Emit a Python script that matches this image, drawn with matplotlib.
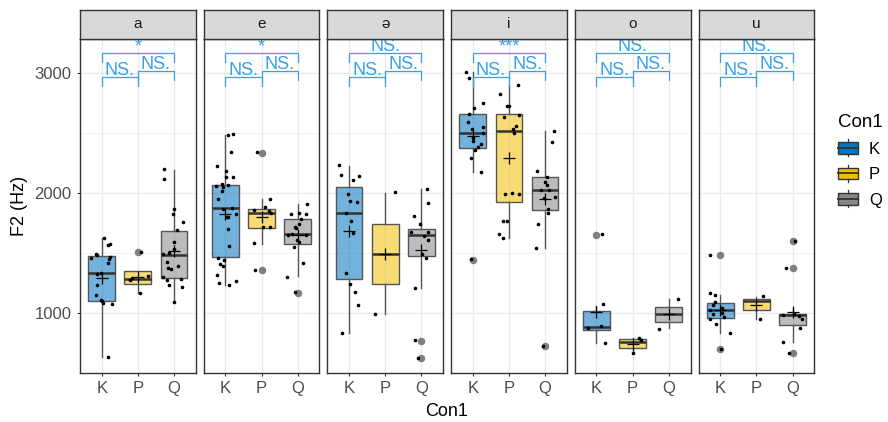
import matplotlib
matplotlib.use("Agg")
import matplotlib.pyplot as plt
from matplotlib.legend_handler import HandlerBase
from matplotlib.patches import Rectangle, Patch
from matplotlib.lines import Line2D
import numpy as np

plt.rcParams['font.family'] = ['Liberation Sans', 'DejaVu Sans']

# ---------------- data ----------------
vowels = ['a', 'e', 'ə', 'i', 'o', 'u']
groups = ['K', 'P', 'Q']
group_colors = ['#0073C2', '#EFC000', '#868686']

# box statistics, one row per vowel, columns K, P, Q
q1 = [[1102, 1247, 1292], [1472, 1711, 1578], [1283, 1244, 1480],
      [2380, 1928, 1858], [858, 713, 930], [961, 1028, 903]]
med = [[1336, 1286, 1486], [1875, 1833, 1658], [1833, 1494, 1655],
       [2500, 2522, 2028], [883, 763, 994], [1030, 1103, 986]]
q3 = [[1475, 1350, 1688], [2067, 1872, 1786], [2050, 1747, 1700],
      [2661, 2664, 2133], [1019, 783, 1055], [1083, 1119, 994]]
whislo = [[638, 1166, 1092], [1233, 1580, 1311], [833, 994, 1214],
          [2180, 1630, 1547], [750, 667, 875], [838, 956, 761]]
whishi = [[1630, 1350, 2194], [2486, 1950, 1908], [2230, 2005, 2036],
          [3013, 2903, 2517], [1064, 797, 1119], [1152, 1139, 1047]]
means = [[1292, 1305, 1519], [1830, 1805, 1653], [1686, 1494, 1527],
         [2478, 2294, 1950], [1013, 742, 994], [1028, 1067, 1013]]
outliers = [
    [[], [1511], []],
    [[], [2333, 1361], [1172]],
    [[], [], [772, 630]],
    [[1444], [], [725]],
    [[1652], [], []],
    [[1486, 700], [], [1605, 1377, 667]],
]

# individual observations (jittered points)
points_a = [
    [1630, 1580, 1572, 1497, 1486, 1472, 1461, 1452, 1419, 1336, 1328, 1233, 1155, 1111, 1103, 1088, 1078, 636],
    [1511, 1310, 1290, 1280, 1166],
    [2200, 2122, 1867, 1828, 1761, 1694, 1592, 1536, 1502, 1497, 1430, 1392, 1375, 1372, 1305, 1286, 1275, 1233, 1222, 1092],
]
points_e = [
    [2490, 2486, 2341, 2225, 2188, 2138, 2135, 2078, 2067, 2062, 2055, 2022, 1950, 1875, 1870, 1825, 1805, 1800,
     1705, 1563, 1458, 1442, 1411, 1392, 1319, 1269, 1250, 1233],
    [2341, 1950, 1883, 1861, 1850, 1833, 1719, 1715, 1583, 1364],
    [1913, 1836, 1830, 1825, 1786, 1744, 1722, 1711, 1660, 1655, 1650, 1611, 1590, 1555, 1422, 1305, 1175],
]
points_schwa = [
    [2236, 2150, 2140, 2111, 1994, 1938, 1930, 1833, 1769, 1667, 1333, 1242, 1180, 1069, 833],
    [2008, 994],
    [2036, 1922, 1808, 1742, 1680, 1676, 1647, 1611, 1492, 1458, 1208, 773, 630],
]
points_i = [
    [3013, 2963, 2755, 2711, 2661, 2597, 2555, 2536, 2500, 2458, 2436, 2411, 2389, 2358, 2292, 2180, 1450],
    [2903, 2830, 2728, 2725, 2653, 2633, 2558, 2536, 2500, 2002, 1997, 1992, 1772, 1770, 1658, 1630],
    [2519, 2430, 2186, 2136, 2092, 2067, 2030, 2028, 1966, 1960, 1869, 1836, 1741, 1544, 727],
]
points_o = [
    [1658, 1075, 897, 875, 750],
    [797, 781, 672],
    [1119, 872],
]
points_u = [
    [1486, 1167, 1152, 1094, 1069, 1042, 1028, 1005, 994, 972, 950, 908, 833, 700],
    [1144, 956],
    [1605, 1380, 993, 986, 975, 950, 875, 761, 667],
]
all_points = [points_a, points_e, points_schwa, points_i, points_o, points_u]

# significance brackets: (from group, to group), bracket height, labels per vowel
bracket_pairs = [(0, 1), (1, 2), (0, 2)]
bracket_y = [2967, 3017, 3167]
bracket_tip = 75
labels_KP = ['NS.', 'NS.', 'NS.', 'NS.', 'NS.', 'NS.']
labels_PQ = ['NS.', 'NS.', 'NS.', 'NS.', 'NS.', 'NS.']
labels_KQ = ['*', '*', 'NS.', '***', 'NS.', 'NS.']
bracket_labels = [labels_KP, labels_PQ, labels_KQ]

y_major = [1000, 2000, 3000]
y_minor = [1500, 2500]

# ---------------- layout ----------------
W, H = 888, 422
fig = plt.figure(figsize=(W / 100, H / 100), dpi=100)
fig.patch.set_facecolor('white')

def fx(px):
    return px / W

def fy(py):
    return 1 - py / H

panel_left0 = 80
panel_w = 115.7
gap = 8
top, bottom = 39, 373
strip_top = 10
sig_color = '#3AA0E4'
edge_col = '#333333'
box_edge = '#555555'
rng = np.random.default_rng(7)

for vi, vowel in enumerate(vowels):
    left = panel_left0 + vi * (panel_w + gap)
    ax = fig.add_axes([fx(left), fy(bottom), panel_w / W, (bottom - top) / H])
    ax.set_xlim(0.4, 3.6)
    ax.set_ylim(502, 3286)
    ax.set_facecolor('white')

    # grid
    for yv in y_major:
        ax.axhline(yv, color='#EBEBEB', lw=1.0, zorder=0)
    for yv in y_minor:
        ax.axhline(yv, color='#EBEBEB', lw=0.5, zorder=0)
    for xv in range(1, 4):
        ax.axvline(xv, color='#EBEBEB', lw=1.0, zorder=0)

    stats = []
    for gi in range(3):
        stats.append(dict(med=med[vi][gi], q1=q1[vi][gi], q3=q3[vi][gi],
                          whislo=whislo[vi][gi], whishi=whishi[vi][gi],
                          mean=means[vi][gi], fliers=outliers[vi][gi]))
    bp = ax.bxp(stats, positions=[1, 2, 3], widths=0.74, patch_artist=True,
                showmeans=True, showcaps=False, manage_ticks=False,
                boxprops=dict(edgecolor=box_edge, linewidth=1.0),
                medianprops=dict(color='#333333', linewidth=1.8),
                whiskerprops=dict(color=box_edge, linewidth=1.0),
                flierprops=dict(marker='o', markerfacecolor='#7F7F7F',
                                markeredgecolor='#7F7F7F', markersize=4.4),
                meanprops=dict(marker='+', markeredgecolor='black',
                               markersize=9, markeredgewidth=0.9))
    for gi, patch in enumerate(bp['boxes']):
        r, g, b = matplotlib.colors.to_rgb(group_colors[gi])
        patch.set_facecolor((r, g, b, 0.55))
        patch.set_zorder(2)
    for m in bp['means']:
        m.set_zorder(5)

    # jittered points
    for gi in range(3):
        yvals = np.array(all_points[vi][gi], dtype=float)
        xj = (gi + 1) + rng.uniform(-0.3, 0.3, size=len(yvals))
        ax.plot(xj, yvals, 'o', color='black', markersize=1.6, zorder=4)

    # significance brackets
    for bi, (g0, g1) in enumerate(bracket_pairs):
        yb = bracket_y[bi]
        x0, x1 = g0 + 1, g1 + 1
        ax.plot([x0, x0, x1, x1], [yb - bracket_tip, yb, yb, yb - bracket_tip],
                color=sig_color, lw=0.9, zorder=6, clip_on=False)
        ax.annotate(bracket_labels[bi][vi], xy=((x0 + x1) / 2, yb),
                    xytext=(0, 1.6), textcoords='offset points',
                    ha='center', va='baseline', fontsize=13, color=sig_color,
                    zorder=6, annotation_clip=False)

    # axes styling
    for sp in ax.spines.values():
        sp.set_color(edge_col)
        sp.set_linewidth(1.0)
        sp.set_zorder(7)
    ax.set_xticks([1, 2, 3])
    ax.set_xticklabels(groups)
    ax.tick_params(axis='x', length=2.5, width=0.8, color=edge_col,
                   labelsize=12, labelcolor='#4D4D4D', pad=3)
    if vi == 0:
        ax.set_yticks(y_major)
        ax.set_yticklabels([str(v) for v in y_major])
        ax.tick_params(axis='y', length=2.5, width=0.8, color=edge_col,
                       labelsize=12, labelcolor='#4D4D4D', pad=3.5)
    else:
        ax.set_yticks([])

    # strip
    sax = fig.add_axes([fx(left), fy(top), panel_w / W, (top - strip_top) / H])
    sax.set_facecolor('#D9D9D9')
    sax.set_xticks([])
    sax.set_yticks([])
    for sp in sax.spines.values():
        sp.set_color(edge_col)
        sp.set_linewidth(1.0)
    sax.text(0.5, 0.5, vowel, ha='center', va='center', fontsize=11,
             color='#1A1A1A', transform=sax.transAxes)

# axis titles
fig.text(fx(20), fy(206), 'F2 (Hz)', rotation=90, ha='center', va='center',
         fontsize=13, color='black')
fig.text(fx(447), fy(411), 'Con1', ha='center', va='center', fontsize=13,
         color='black')

# legend with boxplot keys
class BoxKey(HandlerBase):
    def create_artists(self, legend, orig_handle, xdescent, ydescent,
                       width, height, fontsize, trans):
        fc = orig_handle.get_facecolor()
        x0, y0 = -xdescent, -ydescent
        bh = height * 0.66
        by = y0 + (height - bh) / 2
        rect = Rectangle((x0, by), width, bh, facecolor=fc,
                         edgecolor='#333333', lw=1.0, transform=trans)
        medl = Line2D([x0, x0 + width], [y0 + height / 2] * 2,
                      color='#333333', lw=1.3, transform=trans)
        wt = Line2D([x0 + width / 2] * 2, [by + bh, y0 + height],
                    color='#333333', lw=0.9, transform=trans)
        wb = Line2D([x0 + width / 2] * 2, [y0, by],
                    color='#333333', lw=0.9, transform=trans)
        return [rect, medl, wt, wb]

handles = [Patch(facecolor=c) for c in group_colors]
leg = fig.legend(handles, groups, loc='upper left',
                 bbox_to_anchor=(fx(838), fy(114)), frameon=False,
                 title='Con1', alignment='left', fontsize=12, title_fontsize=13.5,
                 handlelength=1.2, handleheight=1.2, handletextpad=0.66,
                 labelspacing=0.5, borderpad=0, borderaxespad=0,
                 handler_map={Patch: BoxKey()})

fig.savefig('out.png', dpi=100)
